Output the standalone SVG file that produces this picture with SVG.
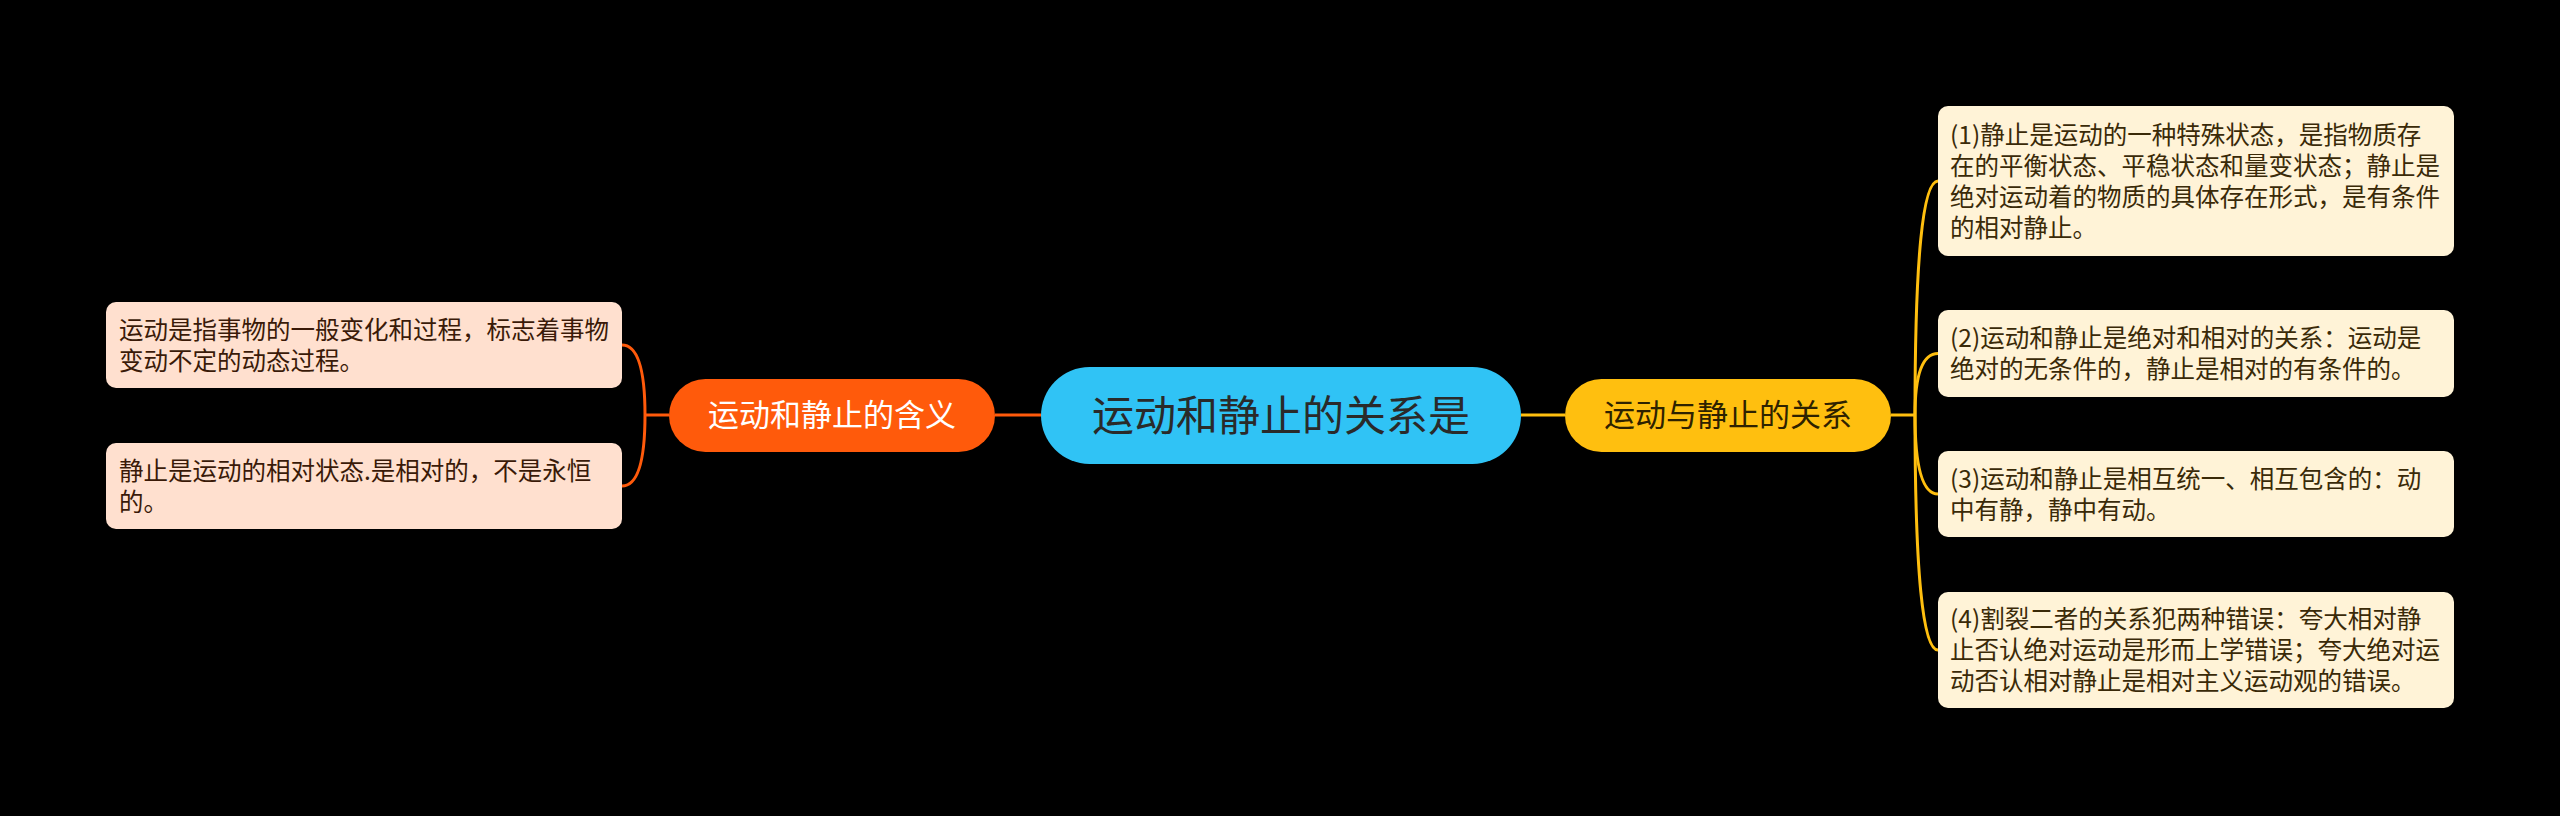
<svg xmlns="http://www.w3.org/2000/svg" width="2560" height="816" viewBox="0 0 2560 816">
<style>
text{font-family:"Noto Sans CJK SC","Noto Sans",sans-serif;}
.leafL rect{fill:#FFE0CF;}
.leafR rect{fill:#FFF3D7;}
.leafL text{font-size:24.5px;fill:#3A1A08;}
.leafR text{font-size:24.5px;fill:#3A2A08;}
.conL{fill:none;stroke:#FF5A0B;stroke-width:3;}
.conR{fill:none;stroke:#FFBF0F;stroke-width:3;}
</style>
<rect width="2560" height="816" fill="#000"/>
<g id="connectors">
<path class="conL" d="M669,415 L645,415"/>
<path class="conL" d="M1041,415 L995,415"/>
<path class="conL" d="M645,415 Q645,345 622,345"/>
<path class="conL" d="M645,415 Q645,486 622,486"/>
<path class="conR" d="M1521,415 L1565,415"/>
<path class="conR" d="M1891,415 L1915,415"/>
<path class="conR" d="M1915,415 Q1915,181 1938,181"/>
<path class="conR" d="M1915,415 Q1915,353.5 1938,353.5"/>
<path class="conR" d="M1915,415 Q1915,494 1938,494"/>
<path class="conR" d="M1915,415 Q1915,650 1938,650"/>
</g>
<g id="center">
<rect x="1041" y="367" width="480" height="97" rx="48.5" fill="#30C3F5"/>
<text x="1281" y="431" font-size="42" fill="#2A2A2A" text-anchor="middle">运动和静止的关系是</text>
</g>
<g id="main-left">
<rect x="669" y="379" width="326" height="73" rx="36.5" fill="#FF5A0B"/>
<text x="832" y="426" font-size="31" fill="#FFFFFF" text-anchor="middle">运动和静止的含义</text>
</g>
<g id="main-right">
<rect x="1565" y="379" width="326" height="73" rx="36.5" fill="#FFBF0F"/>
<text x="1728" y="426" font-size="31" fill="#2E2200" text-anchor="middle">运动与静止的关系</text>
</g>
<g id="leaf-l1" class="leafL">
<rect x="106" y="302" width="516" height="86" rx="10"/>
<text x="119" y="339">运动是指事物的一般变化和过程，标志着事物</text>
<text x="119" y="370">变动不定的动态过程。</text>
</g>
<g id="leaf-l2" class="leafL">
<rect x="106" y="443" width="516" height="86" rx="10"/>
<text x="119" y="480">静止是运动的相对状态.是相对的，不是永恒</text>
<text x="119" y="511">的。</text>
</g>
<g id="leaf-r1" class="leafR">
<rect x="1938" y="106" width="516" height="150" rx="10"/>
<text x="1950" y="144">(1)静止是运动的一种特殊状态，是指物质存</text>
<text x="1950" y="175">在的平衡状态、平稳状态和量变状态；静止是</text>
<text x="1950" y="206">绝对运动着的物质的具体存在形式，是有条件</text>
<text x="1950" y="237">的相对静止。</text>
</g>
<g id="leaf-r2" class="leafR">
<rect x="1938" y="310" width="516" height="87" rx="10"/>
<text x="1950" y="347">(2)运动和静止是绝对和相对的关系：运动是</text>
<text x="1950" y="378">绝对的无条件的，静止是相对的有条件的。</text>
</g>
<g id="leaf-r3" class="leafR">
<rect x="1938" y="451" width="516" height="86" rx="10"/>
<text x="1950" y="488">(3)运动和静止是相互统一、相互包含的：动</text>
<text x="1950" y="519">中有静，静中有动。</text>
</g>
<g id="leaf-r4" class="leafR">
<rect x="1938" y="592" width="516" height="116" rx="10"/>
<text x="1950" y="628">(4)割裂二者的关系犯两种错误：夸大相对静</text>
<text x="1950" y="659">止否认绝对运动是形而上学错误；夸大绝对运</text>
<text x="1950" y="690">动否认相对静止是相对主义运动观的错误。</text>
</g>
</svg>
